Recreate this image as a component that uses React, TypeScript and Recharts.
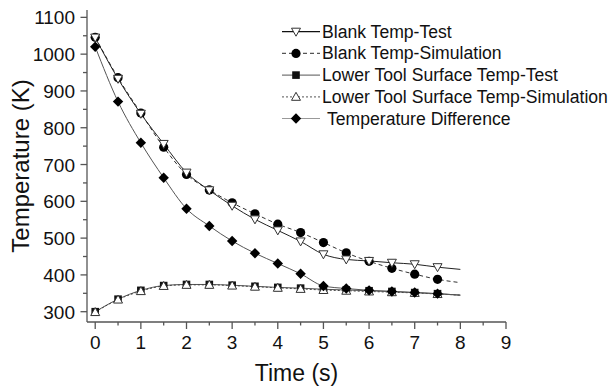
import React from 'react';
import { LineChart, Line, XAxis, YAxis, Label } from 'recharts';

// time in seconds, markers are shown up to 7.5 s, curves run on to 8 s
const time = [0, 0.5, 1, 1.5, 2, 2.5, 3, 3.5, 4, 4.5, 5, 5.5, 6, 6.5, 7, 7.5, 8];
const blankTest = [1045, 933, 838, 756, 678, 630, 588, 551, 521, 491, 456, 442, 438, 433, 429, 421, 415];
const blankSim = [1046, 936, 840, 747, 673, 631, 596, 566, 538, 515, 488, 460, 437, 418, 402, 388, 379];
const lowerTest = [300, 334, 358, 371, 374, 374, 372, 369, 366, 364, 361, 359, 357, 355, 352, 349, 345];
const lowerSim = [299, 333, 356, 370, 373, 373, 371, 368, 365, 362, 359, 357, 355, 353, 351, 348, 345];
const tempDiff = [1020, 871, 759, 664, 580, 533, 492, 459, 431, 403, 370, 363, 358, 355, 352, 349, 345];

const xTicks = [0, 0.5, 1, 1.5, 2, 2.5, 3, 3.5, 4, 4.5, 5, 5.5, 6, 6.5, 7, 7.5, 8, 8.5, 9];
const yTicks = [300, 350, 400, 450, 500, 550, 600, 650, 700, 750, 800, 850, 900, 950, 1000, 1050, 1100];

const seriesNames = [
  'Blank Temp-Test',
  'Blank Temp-Simulation',
  'Lower Tool Surface Temp-Test',
  'Lower Tool Surface Temp-Simulation',
  'Temperature Difference',
];

const FONT = '"Liberation Sans", Arial, sans-serif';
const LAST_MARKER_T = 7.5;

const data = time.map((t, i) => ({
  t,
  blankTest: blankTest[i],
  blankSim: blankSim[i],
  lowerTest: lowerTest[i],
  lowerSim: lowerSim[i],
  tempDiff: tempDiff[i],
}));

type Shape = 'triDown' | 'circle' | 'square' | 'triUp' | 'diamond';

function Marker({ shape, x, y }: { shape: Shape; x: number; y: number }) {
  switch (shape) {
    case 'triDown':
      return <polygon points={`${x - 4.5},${y - 3.5} ${x + 4.5},${y - 3.5} ${x},${y + 4.5}`} fill="#fff" stroke="#333" strokeWidth={1} />;
    case 'triUp':
      return <polygon points={`${x - 4.5},${y + 3.5} ${x + 4.5},${y + 3.5} ${x},${y - 4.5}`} fill="#fff" stroke="#333" strokeWidth={1} />;
    case 'circle':
      return <circle cx={x} cy={y} r={4.6} fill="#000" />;
    case 'square':
      return <rect x={x - 3.8} y={y - 3.8} width={7.6} height={7.6} fill="#111" />;
    case 'diamond':
      return <polygon points={`${x},${y - 5.2} ${x + 5.2},${y} ${x},${y + 5.2} ${x - 5.2},${y}`} fill="#000" />;
  }
  return null;
}

const makeDot = (shape: Shape) => (props: any) => {
  const { cx, cy, index } = props;
  if (cx == null || cy == null || time[index] > LAST_MARKER_T) return <g key={`n-${shape}-${index}`} />;
  return (
    <g key={`d-${shape}-${index}`}>
      <Marker shape={shape} x={cx} y={cy} />
    </g>
  );
};

function XTick(props: any) {
  const { x, y, payload } = props;
  const major = Number.isInteger(payload.value);
  return (
    <g>
      <line x1={x} x2={x} y1={y} y2={y + (major ? 7 : 3.5)} stroke="#555" strokeWidth={1.3} />
      {major && (
        <text x={x} y={y + 27} textAnchor="middle" fontSize={19} fill="#111" fontFamily={FONT}>
          {payload.value}
        </text>
      )}
    </g>
  );
}

function YTick(props: any) {
  const { x, y, payload } = props;
  const major = payload.value % 100 === 0;
  return (
    <g>
      <line x1={x} x2={x - (major ? 6.5 : 4)} y1={y} y2={y} stroke="#555" strokeWidth={1.3} />
      {major && (
        <text x={x - 12} y={y + 7} textAnchor="end" fontSize={19} fill="#111" fontFamily={FONT}>
          {payload.value}
        </text>
      )}
    </g>
  );
}

const legendShapes: Shape[] = ['triDown', 'circle', 'square', 'triUp', 'diamond'];
const legendDash = ['', '4 3', '', '2 2', ''];
const legendColor = ['#111', '#555', '#777', '#777', '#999'];

function LegendBox() {
  return (
    <svg width={613} height={387} style={{ position: 'absolute', left: 0, top: 0, pointerEvents: 'none' }}>
      {seriesNames.map((name, i) => {
        const cy = 31.7 + i * 21.7;
        return (
          <g key={name}>
            <line x1={282} x2={320} y1={cy} y2={cy} stroke={legendColor[i]} strokeWidth={1.2} strokeDasharray={legendDash[i] || undefined} />
            <Marker shape={legendShapes[i]} x={296} y={cy} />
            <text x={i === 4 ? 327 : 322} y={cy + 6} fontSize={17.6} fill="#111" fontFamily={FONT}>
              {name}
            </text>
          </g>
        );
      })}
    </svg>
  );
}

export default function App() {
  return (
    <div style={{ position: 'fixed', left: 0, top: 0, width: 613, height: 387, background: '#fff' }}>
      <LineChart width={613} height={387} data={data} margin={{ top: 10, right: 107, bottom: 0, left: 0 }}>
        <XAxis
          type="number"
          dataKey="t"
          domain={[-0.18, 9]}
          allowDataOverflow
          ticks={xTicks}
          interval={0}
          tick={<XTick />}
          tickLine={false}
          tickSize={0}
          tickMargin={0}
          height={65}
          axisLine={{ stroke: '#555', strokeWidth: 1.3 }}
        >
          <Label
            content={(p: any) => (
              <text x={p.viewBox.x + p.viewBox.width / 2} y={381} textAnchor="middle" fontSize={23} fill="#111" fontFamily={FONT}>
                Time (s)
              </text>
            )}
          />
        </XAxis>
        <YAxis
          type="number"
          domain={[272, 1120]}
          allowDataOverflow
          ticks={yTicks}
          interval={0}
          tick={<YTick />}
          tickLine={false}
          tickSize={0}
          tickMargin={0}
          width={87}
          axisLine={{ stroke: '#555', strokeWidth: 1.3 }}
        >
          <Label
            content={(p: any) => {
              const cy = p.viewBox.y + p.viewBox.height / 2;
              return (
                <text x={29} y={cy} transform={`rotate(-90 29 ${cy})`} textAnchor="middle" fontSize={24} fill="#111" fontFamily={FONT}>
                  Temperature (K)
                </text>
              );
            }}
          />
        </YAxis>
        <Line dataKey="lowerTest" type="monotone" stroke="#555" strokeWidth={1} dot={makeDot('square')} activeDot={false} isAnimationActive={false} />
        <Line dataKey="lowerSim" type="monotone" stroke="#444" strokeWidth={1} strokeDasharray="2 2" dot={makeDot('triUp')} activeDot={false} isAnimationActive={false} />
        <Line dataKey="tempDiff" type="monotone" stroke="#555" strokeWidth={1} dot={makeDot('diamond')} activeDot={false} isAnimationActive={false} />
        <Line dataKey="blankSim" type="monotone" stroke="#333" strokeWidth={1} strokeDasharray="4 3" dot={makeDot('circle')} activeDot={false} isAnimationActive={false} />
        <Line dataKey="blankTest" type="monotone" stroke="#222" strokeWidth={1} dot={makeDot('triDown')} activeDot={false} isAnimationActive={false} />
      </LineChart>
      <LegendBox />
    </div>
  );
}
